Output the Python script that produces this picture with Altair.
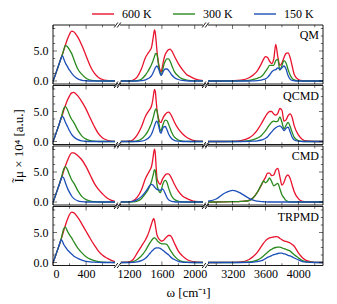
import altair as alt
import pandas as pd

FONT = "Liberation Serif"

METHODS = ["QM", "QCMD", "CMD", "TRPMD"]
TEMPS = ["600 K", "300 K", "150 K"]
COLORS = ["#e8132d", "#2a8a1f", "#1d4fb8"]

W_LOW = [0, 25, 50, 75, 100, 115, 130, 150, 175, 200, 225, 250, 300, 350, 400, 450, 500, 550, 600, 650, 700, 750]
W_MID = [1100, 1200, 1250, 1300, 1350, 1400, 1425, 1450, 1475, 1490, 1500, 1510, 1520, 1530, 1540, 1560,
         1580, 1590, 1600, 1620, 1640, 1660, 1680, 1700, 1720, 1750, 1800, 1850, 1900, 1950, 2000, 2100]
W_HIGH = [2900, 3000, 3100, 3200, 3300, 3400, 3450, 3500, 3550, 3575, 3600, 3625, 3650, 3675, 3700, 3725,
          3750, 3775, 3800, 3825, 3850, 3875, 3900, 3925, 3950, 4000, 4050, 4100, 4200, 4300]

# ---- QM ----
QM_600_LOW = [0, 0.9, 1.9, 2.9, 3.9, 4.5, 5.1, 6.0, 7.0, 7.8, 8.3, 8.2, 7.3, 5.9, 4.2, 2.5, 1.3, 0.6, 0.25, 0.1, 0.03, 0]
QM_300_LOW = [0, 0.9, 1.9, 2.9, 3.9, 4.5, 5.2, 5.95, 5.7, 5.2, 4.6, 3.7, 2.0, 1.1, 0.45, 0.15, 0.05, 0.02, 0, 0, 0, 0]
QM_150_LOW = [0, 0.9, 1.9, 2.9, 3.9, 4.2, 3.7, 3.0, 2.4, 1.8, 1.3, 0.9, 0.35, 0.12, 0.04, 0, 0, 0, 0, 0, 0, 0]
QM_600_MID = [0, 0, 0.15, 0.7, 2.0, 3.9, 4.5, 5.0, 5.7, 6.9, 7.8, 8.5, 8.0, 6.6, 5.0, 2.9, 1.7, 1.5, 2.0, 3.4,
              4.4, 4.9, 5.2, 5.3, 5.0, 4.2, 2.9, 1.9, 1.1, 0.7, 0.35, 0.05]
QM_300_MID = [0, 0, 0, 0.05, 0.3, 1.0, 1.5, 2.1, 2.8, 3.3, 3.7, 4.1, 4.5, 4.6, 4.4, 2.6, 1.3, 1.0, 1.3, 2.5,
              3.3, 3.7, 3.7, 3.3, 2.6, 1.6, 0.8, 0.35, 0.15, 0.05, 0.02, 0]
QM_150_MID = [0, 0, 0, 0, 0.05, 0.2, 0.35, 0.55, 0.9, 1.3, 1.6, 1.9, 2.2, 2.4, 2.5, 2.0, 1.2, 0.95, 1.1, 1.7,
              2.0, 2.0, 1.8, 1.4, 1.0, 0.6, 0.25, 0.1, 0.03, 0, 0, 0]
QM_600_HIGH = [0, 0, 0.02, 0.05, 0.15, 0.55, 1.0, 1.7, 2.9, 3.6, 4.05, 3.9, 3.3, 2.9, 3.6, 6.1, 4.0, 2.6, 3.0,
               3.9, 4.6, 4.7, 3.9, 2.5, 1.1, 0.25, 0.05, 0.01, 0, 0]
QM_300_HIGH = [0, 0, 0, 0, 0.02, 0.1, 0.25, 0.45, 0.75, 1.1, 1.6, 2.1, 2.6, 2.6, 2.6, 3.4, 3.6, 1.8, 2.6, 3.4,
               3.0, 1.9, 1.0, 0.45, 0.2, 0.05, 0, 0, 0, 0]
QM_150_HIGH = [0, 0, 0, 0, 0, 0, 0.02, 0.05, 0.15, 0.25, 0.35, 0.6, 1.0, 1.5, 1.8, 1.9, 2.2, 1.9, 2.2, 2.5,
               2.0, 0.9, 0.3, 0.1, 0.04, 0, 0, 0, 0, 0]

# ---- QCMD ----
QCMD_600_LOW = [0, 0.9, 1.9, 2.9, 3.9, 4.5, 5.2, 6.0, 6.9, 7.6, 8.1, 8.2, 7.6, 6.6, 5.4, 3.9, 2.5, 1.3, 0.6, 0.25, 0.08, 0.02]
QCMD_300_LOW = [0, 0.9, 1.9, 2.9, 4.0, 4.8, 5.5, 5.8, 5.3, 4.4, 3.7, 3.2, 1.9, 0.9, 0.4, 0.15, 0.05, 0, 0, 0, 0, 0]
QCMD_150_LOW = [0, 0.9, 1.9, 2.9, 4.0, 4.2, 3.9, 3.2, 2.5, 1.8, 1.2, 0.8, 0.3, 0.1, 0.03, 0, 0, 0, 0, 0, 0, 0]
QCMD_600_MID = [0, 0.05, 0.3, 1.1, 2.4, 4.2, 4.8, 5.3, 6.0, 7.0, 8.0, 8.7, 8.3, 6.8, 5.3, 3.8, 3.2, 3.2, 3.5,
                4.1, 4.5, 4.8, 4.9, 4.7, 4.2, 3.3, 2.1, 1.3, 0.7, 0.35, 0.12, 0.02]
QCMD_300_MID = [0, 0, 0, 0.1, 0.4, 1.1, 1.6, 2.3, 3.1, 3.8, 4.3, 4.9, 5.3, 5.45, 5.1, 3.3, 1.9, 1.8, 2.2, 3.1,
                3.55, 3.5, 2.9, 2.2, 1.5, 0.75, 0.25, 0.08, 0.02, 0, 0, 0]
QCMD_150_MID = [0, 0, 0, 0, 0.05, 0.25, 0.45, 0.75, 1.3, 1.8, 2.2, 2.6, 3.0, 3.3, 3.4, 2.6, 1.5, 1.4, 1.8, 2.4,
                2.5, 2.0, 1.3, 0.8, 0.45, 0.2, 0.05, 0, 0, 0, 0, 0]
QCMD_600_HIGH = [0, 0, 0, 0.02, 0.15, 0.6, 1.1, 1.9, 3.0, 3.6, 4.2, 4.7, 5.0, 5.0, 4.6, 4.4, 4.7, 5.5, 5.2, 3.4,
                 3.6, 4.3, 4.6, 4.0, 2.6, 1.1, 0.35, 0.08, 0, 0]
QCMD_300_HIGH = [0, 0, 0, 0, 0.02, 0.15, 0.3, 0.55, 1.0, 1.4, 1.8, 2.3, 2.8, 3.2, 3.4, 3.3, 3.4, 4.1, 3.2, 2.1,
                 2.7, 3.2, 2.5, 1.5, 0.7, 0.15, 0.03, 0, 0, 0]
QCMD_150_HIGH = [0, 0, 0, 0, 0, 0.02, 0.05, 0.1, 0.25, 0.35, 0.55, 0.8, 1.2, 1.6, 2.0, 2.3, 2.5, 2.6, 2.3, 1.8,
                 2.2, 2.4, 1.6, 0.7, 0.25, 0.05, 0, 0, 0, 0]

# ---- CMD ----
CMD_600_LOW = [0, 0.9, 1.9, 2.9, 3.9, 4.5, 5.2, 6.0, 6.9, 7.7, 8.2, 8.2, 7.7, 7.0, 5.9, 4.5, 3.1, 2.1, 1.35, 0.7, 0.3, 0.1]
CMD_300_LOW = [0, 0.9, 1.9, 2.9, 4.0, 4.8, 5.5, 5.9, 5.4, 4.5, 3.7, 3.2, 1.9, 0.9, 0.4, 0.15, 0.05, 0, 0, 0, 0, 0]
CMD_150_LOW = [0, 0.9, 1.9, 2.9, 3.9, 4.2, 4.0, 3.2, 2.3, 1.6, 1.0, 0.6, 0.2, 0.05, 0, 0, 0, 0, 0, 0, 0, 0]
CMD_600_MID = [0, 0.02, 0.2, 0.8, 2.0, 3.9, 4.6, 5.2, 6.0, 7.2, 8.2, 8.8, 8.0, 5.8, 4.0, 3.2, 2.95, 3.2, 3.6,
               4.1, 4.5, 4.7, 4.7, 4.4, 3.9, 3.0, 1.8, 1.0, 0.6, 0.3, 0.1, 0.02]
CMD_300_MID = [0, 0, 0.02, 0.15, 0.55, 1.4, 1.9, 2.6, 3.5, 4.3, 4.9, 5.4, 5.2, 4.0, 2.9, 1.9, 1.55, 1.8, 2.4,
               3.3, 3.6, 3.3, 2.4, 1.6, 0.95, 0.45, 0.12, 0.03, 0, 0, 0, 0]
CMD_150_MID = [0, 0.02, 0.1, 0.4, 0.9, 1.7, 2.2, 2.7, 2.95, 2.85, 2.7, 2.5, 2.35, 2.2, 2.1, 2.0, 1.95, 2.05,
               2.2, 2.0, 1.4, 0.8, 0.4, 0.2, 0.1, 0.04, 0, 0, 0, 0, 0, 0]
CMD_600_HIGH = [0, 0, 0.02, 0.05, 0.1, 0.25, 0.7, 1.6, 2.8, 3.5, 4.1, 4.8, 4.8, 4.4, 4.5, 5.3, 5.6, 4.2, 2.8,
                3.3, 4.2, 4.5, 3.9, 2.8, 1.7, 0.55, 0.1, 0.02, 0, 0]
CMD_300_HIGH = [0, 0, 0.02, 0.05, 0.1, 0.25, 0.7, 1.6, 2.9, 3.5, 3.2, 3.5, 4.0, 3.4, 2.7, 2.9, 3.1, 2.2, 1.2,
                0.7, 0.25, 0.08, 0.02, 0, 0, 0, 0, 0, 0, 0]
CMD_150_HIGH = [0.15, 0.5, 1.45, 1.95, 1.45, 0.6, 0.3, 0.15, 0.06, 0.04, 0.02, 0, 0, 0, 0, 0, 0, 0, 0, 0,
                0, 0, 0, 0, 0, 0, 0, 0, 0, 0]

# ---- TRPMD ----
TRPMD_600_LOW = [0, 0.9, 1.9, 2.9, 3.9, 4.6, 5.3, 6.2, 7.2, 8.0, 8.4, 8.3, 7.5, 6.4, 5.2, 4.0, 2.9, 1.9, 1.2, 0.75, 0.4, 0.15]
TRPMD_300_LOW = [0, 0.9, 1.9, 2.9, 4.0, 4.9, 5.6, 5.9, 5.2, 4.6, 4.1, 3.5, 2.4, 1.6, 0.95, 0.55, 0.3, 0.15, 0.07, 0.03, 0.01, 0]
TRPMD_150_LOW = [0, 0.9, 1.9, 2.9, 3.8, 3.5, 3.0, 2.6, 2.1, 1.75, 1.4, 1.1, 0.7, 0.4, 0.2, 0.1, 0.05, 0.02, 0, 0, 0, 0]
TRPMD_600_MID = [0, 0.1, 0.5, 1.6, 2.7, 3.8, 4.5, 5.4, 6.5, 7.1, 7.3, 7.0, 6.2, 5.3, 4.6, 4.0, 3.7, 3.6, 3.55,
                 3.7, 4.0, 4.3, 4.5, 4.5, 4.2, 3.3, 1.9, 1.1, 0.55, 0.25, 0.1, 0.02]
TRPMD_300_MID = [0, 0.02, 0.15, 0.5, 1.1, 2.0, 2.6, 3.2, 3.7, 3.95, 4.05, 4.1, 4.05, 3.9, 3.7, 3.4, 3.2, 3.15,
                 3.1, 3.1, 3.1, 3.0, 2.6, 2.1, 1.7, 1.1, 0.45, 0.15, 0.05, 0.02, 0, 0]
TRPMD_150_MID = [0, 0, 0.02, 0.1, 0.3, 0.7, 1.05, 1.45, 1.85, 2.05, 2.2, 2.3, 2.38, 2.42, 2.45, 2.45, 2.35,
                 2.25, 2.15, 1.95, 1.7, 1.5, 1.3, 1.0, 0.75, 0.5, 0.2, 0.07, 0.02, 0, 0, 0]
TRPMD_600_HIGH = [0, 0, 0.01, 0.03, 0.08, 0.5, 1.0, 1.7, 2.7, 3.2, 3.6, 3.9, 4.1, 4.2, 4.25, 4.3, 4.25, 4.0,
                  3.8, 3.6, 3.5, 3.4, 3.25, 3.0, 2.7, 1.6, 0.8, 0.3, 0.03, 0]
TRPMD_300_HIGH = [0, 0, 0, 0, 0.02, 0.1, 0.2, 0.4, 0.8, 1.1, 1.4, 1.7, 2.0, 2.2, 2.4, 2.5, 2.55, 2.55, 2.45,
                  2.3, 2.2, 2.05, 1.9, 1.6, 1.3, 0.8, 0.3, 0.1, 0.01, 0]
TRPMD_150_HIGH = [0, 0, 0, 0, 0, 0.02, 0.06, 0.15, 0.3, 0.45, 0.65, 0.85, 1.0, 1.15, 1.3, 1.4, 1.5, 1.55, 1.55,
                  1.45, 1.35, 1.2, 1.1, 0.95, 0.75, 0.45, 0.15, 0.05, 0, 0]

X_DOMAINS = [[0, 750], [1090, 2100], [2900, 4300]]
X_MAJOR = [[0, 400], [1200, 1600, 2000], [3200, 3600, 4000]]
X_MINOR = [[200, 600], [1400, 1800], [3000, 3400, 3800, 4200]]
Y_MAJOR = [0, 5]
Y_MINOR = [1.25, 2.5, 3.75, 6.25, 7.5, 8.75]
Y_DOMAIN = [-0.5, 9.33]

WIDTHS = [62, 83, 115]
H = 59

SERIES = {
    ("QM", "600 K"): (QM_600_LOW, QM_600_MID, QM_600_HIGH),
    ("QM", "300 K"): (QM_300_LOW, QM_300_MID, QM_300_HIGH),
    ("QM", "150 K"): (QM_150_LOW, QM_150_MID, QM_150_HIGH),
    ("QCMD", "600 K"): (QCMD_600_LOW, QCMD_600_MID, QCMD_600_HIGH),
    ("QCMD", "300 K"): (QCMD_300_LOW, QCMD_300_MID, QCMD_300_HIGH),
    ("QCMD", "150 K"): (QCMD_150_LOW, QCMD_150_MID, QCMD_150_HIGH),
    ("CMD", "600 K"): (CMD_600_LOW, CMD_600_MID, CMD_600_HIGH),
    ("CMD", "300 K"): (CMD_300_LOW, CMD_300_MID, CMD_300_HIGH),
    ("CMD", "150 K"): (CMD_150_LOW, CMD_150_MID, CMD_150_HIGH),
    ("TRPMD", "600 K"): (TRPMD_600_LOW, TRPMD_600_MID, TRPMD_600_HIGH),
    ("TRPMD", "300 K"): (TRPMD_300_LOW, TRPMD_300_MID, TRPMD_300_HIGH),
    ("TRPMD", "150 K"): (TRPMD_150_LOW, TRPMD_150_MID, TRPMD_150_HIGH),
}
GRIDS = [W_LOW, W_MID, W_HIGH]

records = []
for m in METHODS:
    for t in TEMPS:
        for reg, vals in enumerate(SERIES[(m, t)]):
            for w, v in zip(GRIDS[reg], vals):
                records.append({"method": m, "T": t, "region": reg, "omega": w, "I": v})
df = pd.DataFrame(records)

# legend: a 22px stroke drawn with a custom path inside a 10px symbol box
LEG = alt.Legend(orient="none", legendX=44, legendY=-17, direction="horizontal", title=None,
                 symbolType="M-2.2,0H2.2", symbolSize=100, symbolStrokeWidth=1.4, labelFont=FONT,
                 labelFontSize=12, labelColor="black", columnPadding=18, labelOffset=13, padding=0)

ONE = pd.DataFrame({"a": [0]})
BLACK = "black"


def panel(r, c):
    m = METHODS[r]
    w = WIDTHS[c]
    d = df[(df.method == m) & (df.region == c)]
    bottom = r == 3

    if bottom:
        xkw = dict(values=X_MAJOR[c], format="d", ticks=False, domain=False, grid=False, labelPadding=3)
        if c == 1:
            xkw.update(title="ω [cm⁻¹]", titleX=68, titlePadding=7)
        xaxis = alt.Axis(**xkw)
    else:
        xaxis = None
    if c == 0:
        ykw = dict(values=Y_MAJOR, format=".1f", ticks=False, domain=False, grid=False, labelPadding=5)
        if r == 1:
            ykw.update(title="Ĩμ × 10⁴ [a.u.]", titleY=H + 0.75, titlePadding=8)
        yaxis = alt.Axis(**ykw)
    else:
        yaxis = None

    def xe():
        if bottom and c == 1:
            return alt.X("omega:Q", scale=alt.Scale(domain=X_DOMAINS[c], nice=False, zero=False), axis=xaxis)
        return alt.X("omega:Q", scale=alt.Scale(domain=X_DOMAINS[c], nice=False, zero=False), axis=xaxis, title=None)

    def ye():
        if c == 0 and r == 1:
            return alt.Y("I:Q", scale=alt.Scale(domain=Y_DOMAIN, nice=False, zero=False), axis=yaxis)
        return alt.Y("I:Q", scale=alt.Scale(domain=Y_DOMAIN, nice=False, zero=False), axis=yaxis, title=None)

    layers = []
    layers.append(
        alt.Chart(d).mark_line(strokeWidth=1.3, interpolate="monotone", clip=True).encode(
            x=xe(), y=ye(),
            color=alt.Color("T:N", scale=alt.Scale(domain=TEMPS, range=COLORS), legend=LEG),
        )
    )
    # x ticks (inward), top and bottom
    for vals, L in [(X_MAJOR[c], 4), (X_MINOR[c], 2.2)]:
        tdf = pd.DataFrame({"omega": vals})
        for ypos in [H - L / 2, L / 2]:
            layers.append(
                alt.Chart(tdf).mark_tick(orient="vertical", size=L, thickness=0.8, color=BLACK).encode(
                    x=xe(), y=alt.value(ypos)
                )
            )
    # y ticks
    if c in (0, 2):
        for vals, L in [(Y_MAJOR, 4), (Y_MINOR, 2.2)]:
            tdf = pd.DataFrame({"I": vals})
            xpos = L / 2 if c == 0 else w - L / 2
            layers.append(
                alt.Chart(tdf).mark_tick(orient="horizontal", size=L, thickness=0.8, color=BLACK).encode(
                    y=ye(), x=alt.value(xpos)
                )
            )
    # frame lines
    layers.append(alt.Chart(ONE).mark_rule(color=BLACK, strokeWidth=0.9).encode(
        x=alt.value(0), x2=alt.value(w), y=alt.value(0)))
    layers.append(alt.Chart(ONE).mark_rule(color=BLACK, strokeWidth=0.9).encode(
        x=alt.value(0), x2=alt.value(w), y=alt.value(H)))
    if c == 0:
        layers.append(alt.Chart(ONE).mark_rule(color=BLACK, strokeWidth=0.9).encode(
            x=alt.value(0), y=alt.value(0), y2=alt.value(H)))
    if c == 2:
        layers.append(alt.Chart(ONE).mark_rule(color=BLACK, strokeWidth=0.9).encode(
            x=alt.value(w), y=alt.value(0), y2=alt.value(H)))
        layers.append(alt.Chart(ONE).mark_text(align="right", baseline="middle", font=FONT, fontSize=12,
                                               color=BLACK).encode(
            x=alt.value(w - 4), y=alt.value(10), text=alt.value(m)))
    # break marks
    if c < 2:
        for ybase in [0, H]:
            for cx in [w + 1.0, w + 4.0]:
                layers.append(alt.Chart(ONE).mark_rule(color=BLACK, strokeWidth=0.9).encode(
                    x=alt.value(cx - 1.8), x2=alt.value(cx + 1.8),
                    y=alt.value(ybase + 2.5), y2=alt.value(ybase - 2.5)))

    return alt.layer(*layers).properties(width=w, height=H)


panels = [panel(r, c) for r in range(4) for c in range(3)]
chart = alt.concat(*panels, columns=3, spacing={"row": 1.5, "column": 5}, bounds="flush", align="each").properties(
    padding={"left": 4, "top": 0, "right": 4, "bottom": 0}
).configure_view(stroke=None).configure_axis(
    labelFont=FONT, titleFont=FONT, labelColor=BLACK, titleColor=BLACK,
    labelFontSize=12, titleFontSize=13, titleFontWeight="normal"
)

chart.save("out.html", embed_options={"renderer": "svg", "actions": False})
